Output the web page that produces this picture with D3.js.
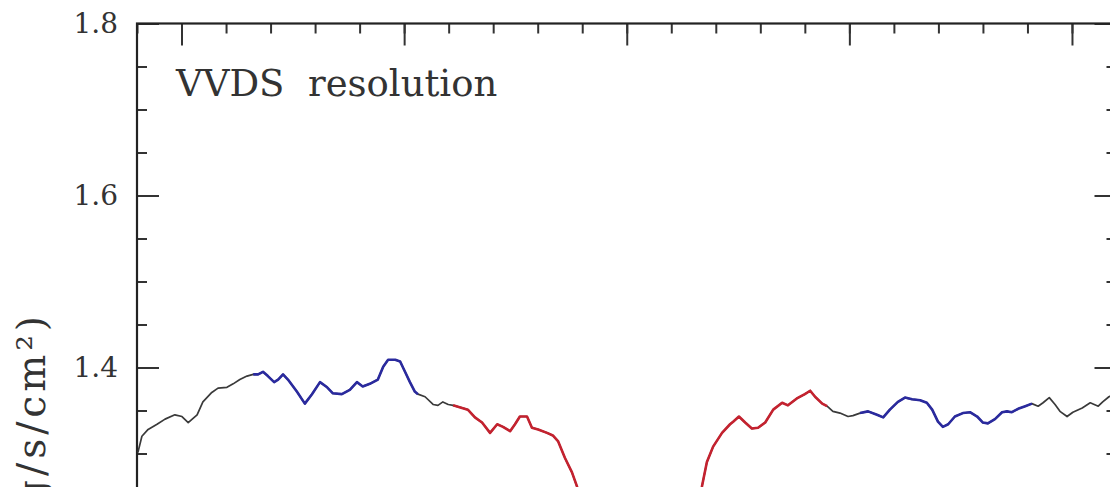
<!DOCTYPE html>
<html>
<head>
<meta charset="utf-8">
<script src="https://cdn.jsdelivr.net/npm/d3@7"></script>
<style>
  html, body { margin: 0; padding: 0; background: #fff; }
  svg { display: block; }
  text { font-family: "DejaVu Serif", serif; fill: #333; }
</style>
</head>
<body>
<svg id="chart" width="1110" height="487"></svg>
<script>
// Rest-frame wavelength (Angstrom) of the smoothed spectrum
const wavelength = [
  2690.2, 2691.1, 2692.5, 2694.5, 2696.3, 2698.5, 2700.1, 2701.5, 2703.5, 2704.8,
  2706.8, 2708.2, 2710.2, 2711.6, 2713.1, 2714.7, 2716.1, 2717.2, 2718.3, 2719.4,
  2720.8, 2721.7, 2722.8, 2723.9, 2725.9, 2727.7, 2729.3, 2731.1, 2732.7, 2734.0,
  2736.0, 2737.8, 2739.4, 2740.7, 2742.3, 2744.1, 2745.3, 2746.4, 2748.0, 2749.1,
  2750.2, 2751.3, 2752.4, 2753.1, 2754.7, 2756.5, 2757.6, 2758.7, 2759.9, 2761.0,
  2763.0, 2764.3, 2765.9, 2767.5, 2769.3, 2770.9, 2772.2, 2773.8, 2774.9, 2776.0,
  2777.6, 2778.7, 2780.1, 2782.1, 2783.4, 2784.6, 2786.1, 2787.7, 2788.8, 2792.0,
  2796.0, 2800.0, 2804.0, 2808.0, 2812.0, 2814.8, 2816.9, 2818.0, 2819.4, 2821.4,
  2823.2, 2823.9, 2825.2, 2826.6, 2828.1, 2829.5, 2831.1, 2832.9, 2834.9, 2836.2,
  2838.2, 2840.0, 2841.2, 2842.3, 2843.9, 2845.0, 2846.3, 2847.9, 2849.7, 2850.8,
  2852.4, 2854.2, 2856.2, 2857.6, 2859.1, 2860.9, 2862.5, 2864.1, 2865.9, 2867.4,
  2868.6, 2869.9, 2871.0, 2872.2, 2873.7, 2875.5, 2877.1, 2878.7, 2880.0, 2881.1,
  2882.7, 2884.3, 2885.4, 2886.5, 2887.9, 2889.5, 2891.0, 2892.4, 2893.5, 2894.9,
  2896.2, 2897.3, 2898.9, 2900.2, 2902.3, 2904.1, 2905.9, 2906.9, 2908.3, 2910.0
];

// Flux density at each wavelength
const flux = [
  1.301, 1.320, 1.328, 1.334, 1.340, 1.345, 1.343, 1.336, 1.345, 1.360,
  1.371, 1.376, 1.377, 1.381, 1.386, 1.390, 1.392, 1.392, 1.395, 1.390,
  1.383, 1.386, 1.392, 1.386, 1.372, 1.358, 1.369, 1.383, 1.377, 1.370,
  1.369, 1.374, 1.383, 1.378, 1.381, 1.386, 1.401, 1.409, 1.409, 1.407,
  1.395, 1.383, 1.372, 1.369, 1.366, 1.357, 1.356, 1.360, 1.357, 1.356,
  1.353, 1.351, 1.342, 1.336, 1.324, 1.334, 1.331, 1.326, 1.334, 1.343,
  1.343, 1.330, 1.328, 1.324, 1.321, 1.314, 1.295, 1.278, 1.262, 1.200,
  1.120, 1.080, 1.070, 1.090, 1.150, 1.215, 1.262, 1.290, 1.308, 1.324,
  1.334, 1.337, 1.343, 1.336, 1.329, 1.330, 1.336, 1.351, 1.359, 1.356,
  1.364, 1.369, 1.373, 1.366, 1.358, 1.355, 1.349, 1.347, 1.343, 1.344,
  1.347, 1.349, 1.345, 1.342, 1.351, 1.360, 1.365, 1.363, 1.362, 1.359,
  1.351, 1.337, 1.331, 1.334, 1.343, 1.347, 1.348, 1.343, 1.336, 1.335,
  1.340, 1.348, 1.349, 1.348, 1.352, 1.355, 1.358, 1.355, 1.359, 1.365,
  1.357, 1.349, 1.343, 1.348, 1.353, 1.359, 1.355, 1.360, 1.366, 1.370
];

// Index bandpasses: pseudo-continua (blue) and central feature band (red)
const continuumBands = [[2715, 2754], [2851, 2891]];
const featureBands = [[2761, 2845]];

// Axis ticks
const xMajorTicks = [2700, 2750, 2800, 2850, 2900];
const xMinorTicks = d3.range(2690, 2911, 10);
const yMajorTicks = [1.4, 1.6, 1.8];
const yMinorTicks = d3.range(1.25, 1.801, 0.05);

const panelLabel = "VVDS  resolution";
const yLabel = "Flux (erg/s/cm\u00B2)";

const svg = d3.select("#chart");

const x = d3.scaleLinear().domain([2690, 2910]).range([137, 1116.5]);
const y = d3.scaleLinear().domain([1.0, 1.8]).range([711.5, 23.5]);

const axisColor = "#333";

// Minor and major ticks on all four sides, pointing into the frame
function styleAxis(g) {
  g.select(".domain").remove();
  g.selectAll(".tick line").attr("stroke", axisColor).attr("stroke-width", 2);
}

svg.append("g").attr("transform", `translate(0,${y(1.8)})`)
  .call(d3.axisTop(x).tickValues(xMinorTicks).tickSize(-10).tickFormat(""))
  .call(styleAxis);
svg.append("g").attr("transform", `translate(0,${y(1.8)})`)
  .call(d3.axisTop(x).tickValues(xMajorTicks).tickSize(-22).tickFormat(""))
  .call(styleAxis);

svg.append("g").attr("transform", `translate(${x(2690)},0)`)
  .call(d3.axisLeft(y).tickValues(yMinorTicks).tickSize(-10).tickFormat(""))
  .call(styleAxis);
const yAxisG = svg.append("g").attr("transform", `translate(${x(2690)},0)`)
  .call(d3.axisLeft(y).tickValues(yMajorTicks).tickSize(-22).tickPadding(19).tickFormat(d3.format(".1f")))
  .call(styleAxis);
yAxisG.selectAll(".tick text")
  .attr("font-family", "DejaVu Serif")
  .attr("font-size", 28)
  .attr("fill", axisColor);

svg.append("g").attr("transform", `translate(${x(2910)},0)`)
  .call(d3.axisRight(y).tickValues(yMinorTicks).tickSize(-10).tickFormat(""))
  .call(styleAxis);
svg.append("g").attr("transform", `translate(${x(2910)},0)`)
  .call(d3.axisRight(y).tickValues(yMajorTicks).tickSize(-22).tickFormat(""))
  .call(styleAxis);

// Frame
svg.append("rect")
  .attr("x", x(2690)).attr("y", y(1.8))
  .attr("width", x(2910) - x(2690)).attr("height", y(1.0) - y(1.8))
  .attr("fill", "none").attr("stroke", "#222").attr("stroke-width", 2.2);

// Spectrum
const spectrum = wavelength.map((w, i) => ({ w, f: flux[i] }));
const line = d3.line().x(d => x(d.w)).y(d => y(d.f));

svg.append("path")
  .datum(spectrum)
  .attr("d", line)
  .attr("fill", "none")
  .attr("stroke", "#3a3a3a")
  .attr("stroke-width", 1.7)
  .attr("stroke-linejoin", "round");

function drawBand(band, color) {
  const pts = spectrum.filter(d => d.w >= band[0] && d.w <= band[1]);
  svg.append("path")
    .datum(pts)
    .attr("d", line)
    .attr("fill", "none")
    .attr("stroke", color)
    .attr("stroke-width", 2.6)
    .attr("stroke-linejoin", "round");
}
continuumBands.forEach(b => drawBand(b, "#2a2a9e"));
featureBands.forEach(b => drawBand(b, "#c4222f"));

// Panel label
svg.append("text")
  .attr("x", 176).attr("y", 96)
  .attr("font-size", 37)
  .attr("fill", "#333")
  .style("white-space", "pre")
  .text(panelLabel);

// Y axis title
svg.append("text")
  .attr("transform", "translate(45,312) rotate(-90)")
  .attr("text-anchor", "end")
  .attr("font-size", 39)
  .attr("letter-spacing", 4)
  .attr("fill", "#333")
  .text(yLabel);
</script>
</body>
</html>
